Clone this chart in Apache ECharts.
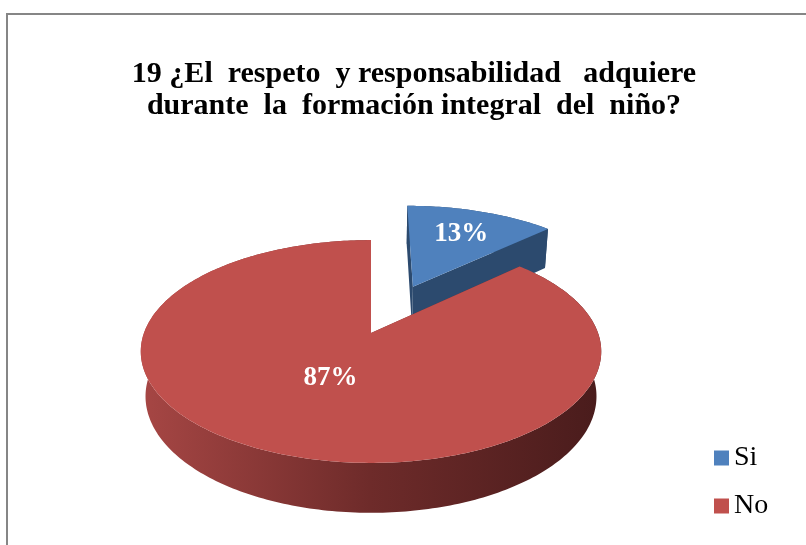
<!DOCTYPE html>
<html>
<head>
<meta charset="utf-8">
<style>
  html, body { margin: 0; padding: 0; background: #fff; }
  #main { width: 806px; height: 545px; }
</style>
</head>
<body>
<div id="main"></div>
<script src="https://cdn.jsdelivr.net/npm/echarts@6/dist/echarts.min.js"></script>
<script>
var categories = ['Si', 'No'];
var values = [13, 87];
var topColors = ['#4F81BD', '#C0504D'];

var chart = echarts.init(document.getElementById('main'));

// 3D pie (perspective like Excel)
var CX = 371, CY = 333, F = 1201, DIST = 5.29;
var TILT = 28.5 * Math.PI / 180;
var DEPTH = 0.227;
var explode = [0.5, 0];
var labelR = [0.68, 0.42];

function project(x, y, h) {
  var yv = h * Math.cos(TILT) + y * Math.sin(TILT);
  var z = DIST + y * Math.cos(TILT) - h * Math.sin(TILT);
  return [CX + F * x / z, CY - F * yv / z];
}

var total = values.reduce(function (a, b) { return a + b; }, 0);

var redSide = {
  type: 'linear', x: 143, y: 0, x2: 597, y2: 0, global: true,
  colorStops: [
    { offset: 0, color: '#A64644' },
    { offset: 0.5, color: '#6E2B2A' },
    { offset: 1, color: '#4A1C1C' }
  ]
};
var sideFill = ['#2C4A6E', redSide];
var cutFill = ['#2C4A6E', '#7A302F'];

function renderSlice(idx) {
  return function (params, api) {
    var before = 0;
    for (var j = 0; j < idx; j++) before += values[j];
    var a0 = before / total * Math.PI * 2;
    var a1 = (before + api.value(0)) / total * Math.PI * 2;
    var mid = (a0 + a1) / 2;
    var ox = Math.sin(mid) * explode[idx];
    var oy = Math.cos(mid) * explode[idx];
    var n = Math.max(8, Math.ceil((a1 - a0) / (Math.PI / 180)));
    var outerTop = [], outerBot = [];
    for (var k = 0; k <= n; k++) {
      var a = a0 + (a1 - a0) * k / n;
      var x = ox + Math.sin(a), y = oy + Math.cos(a);
      outerTop.push(project(x, y, 0));
      outerBot.push(project(x, y, -DEPTH));
    }
    var vTop = project(ox, oy, 0);
    var vBot = project(ox, oy, -DEPTH);
    var band = outerTop.concat(outerBot.slice().reverse());
    var lp = project(ox + Math.sin(mid) * labelR[idx], oy + Math.cos(mid) * labelR[idx], 0);
    return {
      type: 'group',
      children: [
        { type: 'polygon', z2: 1, shape: { points: band }, style: { fill: sideFill[idx] } },
        { type: 'polygon', z2: 2, shape: { points: [vTop, outerTop[0], outerBot[0], vBot] }, style: { fill: cutFill[idx] } },
        { type: 'polygon', z2: 2, shape: { points: [vTop, outerTop[n], outerBot[n], vBot] }, style: { fill: cutFill[idx] } },
        { type: 'polygon', z2: 10, shape: { points: [vTop].concat(outerTop) }, style: { fill: topColors[idx] } },
        {
          type: 'text', z2: 20,
          style: {
            text: Math.round(api.value(0) / total * 100) + '%',
            x: lp[0], y: lp[1], fill: '#fff',
            font: 'bold 27px "Liberation Serif"',
            align: 'center', verticalAlign: 'middle'
          }
        }
      ]
    };
  };
}

var option = {
  animation: false,
  backgroundColor: '#fff',
  title: {
    text: '19 ¿El  respeto  y responsabilidad   adquiere\ndurante  la  formación integral  del  niño?',
    left: 409,
    top: 53,
    textAlign: 'center',
    textStyle: {
      fontFamily: 'Liberation Serif',
      fontWeight: 'bold',
      fontSize: 30,
      lineHeight: 32,
      color: '#000'
    }
  },
  legend: {
    data: categories,
    orient: 'vertical',
    left: 709,
    top: 438,
    itemWidth: 15,
    itemHeight: 15,
    itemGap: 18,
    icon: 'rect',
    selectedMode: false,
    textStyle: {
      fontFamily: 'Liberation Serif',
      fontSize: 28,
      lineHeight: 30,
      color: '#000'
    }
  },
  graphic: [{
    type: 'polyline',
    shape: { points: [[7, 545], [7, 14], [806, 14]] },
    style: { stroke: '#868686', lineWidth: 2, fill: null }
  }],
  series: categories.map(function (name, i) {
    return {
      name: name,
      type: 'custom',
      coordinateSystem: 'none',
      itemStyle: { color: topColors[i] },
      data: [values[i]],
      renderItem: renderSlice(i)
    };
  })
};

chart.setOption(option);
</script>
</body>
</html>
